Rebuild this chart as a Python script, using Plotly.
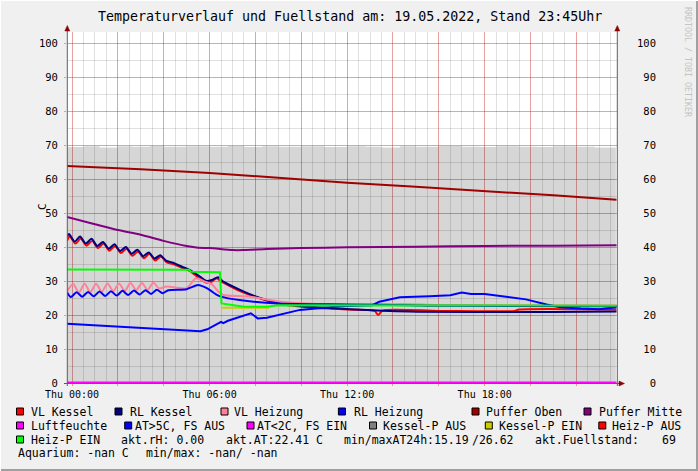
import plotly.graph_objects as go

# ---------------- DATA (time in hours of Thu 19.05.2022) ----------------
fuell_t = [-0.22, 0.5, 1.2, 2.0, 2.6, 3.4, 4.0, 5.0, 6.0, 6.8, 7.5, 8.3, 9.0, 10.0, 11.0,
           12.0, 12.8, 13.5, 14.3, 15.0, 16.0, 17.0, 17.8, 18.5, 19.5, 20.3, 21.0, 22.0, 22.8, 23.72]
fuell_v = [69.4, 69.6, 69.3, 69.6, 69.5, 69.7, 69.5, 69.6, 69.5, 69.7, 69.4, 69.6, 69.5, 69.6, 69.4,
           69.6, 69.5, 69.3, 69.6, 69.5, 69.7, 69.5, 69.4, 69.6, 69.5, 69.4, 69.6, 69.5, 69.3, 69.5]

vlk_t = [-0.22, -0.10, 0.15, 0.38, 0.63, 0.88, 1.13, 1.38, 1.63, 1.88, 2.13, 2.38, 2.63, 2.88,
         3.13, 3.38, 3.63, 3.88, 4.13, 4.4, 4.8, 5.15, 5.58, 5.87, 6.1, 6.3, 6.5, 6.6, 7.33, 7.76,
         9.07, 10.4, 12.1, 13.2, 13.35, 13.55, 16.0, 19.3, 19.5, 23.75]
vlk_v = [41.8, 43.1, 41.0, 42.5, 40.4, 41.8, 39.7, 41.0, 38.9, 40.3, 38.2, 39.5, 37.4, 38.7,
         36.7, 38.0, 36.0, 37.2, 35.5, 35.0, 33.9, 32.9, 30.6, 29.5, 29.8, 30.8, 29.9, 29.5, 27.0, 25.9,
         23.2, 22.2, 21.6, 21.2, 20.0, 21.3, 21.2, 21.2, 21.6, 21.6]

rlk_t = [-0.22, -0.13, 0.12, 0.35, 0.60, 0.85, 1.10, 1.35, 1.60, 1.85, 2.10, 2.35, 2.60, 2.85,
         3.10, 3.35, 3.60, 3.85, 4.10, 4.4, 4.8, 5.15, 5.58, 5.87, 6.1, 6.37, 6.6, 7.33, 8.2,
         9.07, 10.4, 12.1, 14.7, 18.0, 21.0, 23.75]
rlk_v = [43.0, 43.8, 41.6, 43.1, 41.0, 42.4, 40.3, 41.5, 39.5, 40.8, 38.8, 40.0, 38.0, 39.2,
         37.3, 38.4, 36.6, 37.6, 36.0, 35.4, 34.2, 33.2, 31.3, 30.0, 30.3, 31.1, 29.8, 27.4, 25.0,
         23.4, 22.4, 21.7, 21.0, 20.9, 20.9, 21.0]

vlh_t = [-0.22, 0.05, 0.30, 0.55, 0.80, 1.05, 1.30, 1.55, 1.80, 2.05, 2.30, 2.55, 2.80, 3.05,
         3.30, 3.55, 3.80, 4.13, 5.0, 5.4, 5.8, 6.1, 6.4, 6.6, 7.76, 9.0, 10.5, 12.0, 14.5, 16.0, 23.75]
vlh_v = [26.9, 29.1, 26.6, 29.2, 26.7, 29.2, 26.8, 29.3, 27.0, 29.3, 27.1, 29.4, 27.3, 29.4,
         27.4, 29.5, 27.8, 28.4, 27.9, 30.8, 29.8, 29.0, 26.8, 25.9, 25.4, 24.0, 23.3, 23.0, 23.2, 22.9, 22.8]

rlh_t = [-0.22, -0.05, 0.20, 0.45, 0.70, 0.95, 1.20, 1.45, 1.70, 1.95, 2.20, 2.45, 2.70, 2.95,
         3.20, 3.45, 3.70, 3.95, 4.2, 5.0, 5.5, 5.9, 6.3, 6.5, 7.3, 9.0, 12.0, 14.7, 16.0, 23.75]
rlh_v = [26.7, 25.3, 26.7, 25.4, 26.8, 25.5, 26.9, 25.6, 27.0, 25.7, 27.1, 25.9, 27.2, 26.0,
         27.3, 26.2, 27.4, 26.4, 27.3, 27.6, 28.8, 27.8, 26.0, 25.4, 24.4, 23.4, 23.1, 22.9, 22.7, 22.6]

pob_t = [-0.22, 3.0, 6.0, 9.0, 12.0, 15.0, 18.0, 21.0, 23.75]
pob_v = [63.8, 62.9, 61.8, 60.3, 58.9, 57.7, 56.5, 55.2, 53.9]

pmi_t = [-0.22, 1.0, 2.0, 3.0, 4.0, 5.0, 5.5, 6.0, 7.0, 7.5, 8.5, 10.0, 12.0, 15.0, 18.0, 21.0, 23.75]
pmi_v = [48.8, 46.7, 45.0, 43.6, 41.8, 40.3, 39.8, 39.7, 39.1, 39.1, 39.4, 39.7, 39.9, 40.1, 40.3, 40.4, 40.5]

luft_t = [-0.22, 23.75]
luft_v = [0.0, 0.0]

at_t = [-0.22, 2.0, 4.0, 5.0, 5.6, 5.9, 6.3, 6.5, 6.6, 6.8, 7.8, 8.1, 8.5, 9.94, 11.7, 13.1, 13.4,
        14.3, 15.6, 16.5, 17.0, 17.4, 18.0, 18.7, 19.3, 19.8, 20.7, 21.3, 22.2, 23.0, 23.75]
at_v = [17.4, 16.6, 15.9, 15.4, 15.2, 15.8, 17.3, 18.0, 17.6, 18.3, 20.5, 19.0, 19.2, 21.5, 22.6, 22.9, 23.9,
        25.2, 25.5, 25.8, 26.6, 26.2, 26.2, 25.6, 25.0, 24.6, 23.1, 22.3, 21.9, 21.7, 22.3]

kpe_t = [6.5, 8.6]
kpe_v = [22.1, 22.1]

hpe_t = [-0.22, 5.1, 5.2, 6.45, 6.52, 7.5, 8.5, 9.0, 23.75]
hpe_v = [33.4, 33.3, 32.7, 32.6, 23.4, 22.4, 22.4, 22.9, 22.7]

y_ticks = [0, 10, 20, 30, 40, 50, 60, 70, 80, 90, 100]
x_major = [0, 2, 4, 6, 8, 10, 12, 14, 16, 18, 20, 22]
x_labels = {0: "Thu 00:00", 6: "Thu 06:00", 12: "Thu 12:00", 18: "Thu 18:00"}

title_text = "Temperaturverlauf und Fuellstand am: 19.05.2022, Stand 23:45Uhr"

legend_items = [
    ("VL Kessel", "#ff0000", 16.5, 30.3, 411.5),
    ("RL Kessel", "#000080", 115.0, 129.0, 411.5),
    ("VL Heizung", "#ff8099", 221.0, 233.0, 411.5),
    ("RL Heizung", "#0000ff", 338.4, 352.6, 411.5),
    ("Puffer Oben", "#a00000", 472.0, 485.0, 411.5),
    ("Puffer Mitte", "#800080", 584.0, 597.5, 411.5),
    ("Luftfeuchte", "#ff00ff", 16.5, 30.3, 425.5),
    ("AT>5C, FS AUS", "#0000ff", 124.7, 133.6, 425.5),
    ("AT<2C, FS EIN", "#ff00ff", 247.0, 256.0, 425.5),
    ("Kessel-P AUS", "#808080", 369.5, 382.0, 425.5),
    ("Kessel-P EIN", "#cccc00", 485.3, 497.8, 425.5),
    ("Heiz-P AUS", "#ff0000", 598.8, 611.0, 425.5),
    ("Heiz-P EIN", "#00ff00", 16.5, 30.3, 439.5),
]
legend_texts = [
    ("akt.rH: 0.00", 120.2, 439.5),
    ("akt.AT:22.41 C", 224.8, 439.5),
    ("min/maxAT24h:15.19", 342.8, 439.5),
    ("/26.62", 471.0, 439.5),
    ("akt.Fuellstand:", 534.3, 439.5),
    ("69", 661.0, 439.5),
    ("Aquarium: -nan C", 16.5, 453.0),
    ("min/max: -nan/ -nan", 144.7, 453.0),
]

# ---------------- FIGURE ----------------
W, H = 698, 471
L, R, T, B = 67, 617, 32, 383


def px(x):
    return (x - L) / (R - L)


def py(y):
    return (B - y) / (B - T)


MONO = "DejaVu Sans Mono"
fig = go.Figure()

fig.add_trace(go.Scatter(x=fuell_t, y=fuell_v, mode="lines", line=dict(width=0, shape="hv"),
                         fill="tozeroy", fillcolor="rgba(0,0,0,0.16)", hoverinfo="skip"))


def line(t, v, color, width=2, yaxis="y", shape="linear"):
    ln = dict(color=color, width=width, shape=shape)
    if shape == "spline":
        ln["smoothing"] = 0.7
    fig.add_trace(go.Scatter(x=t, y=v, mode="lines", line=ln, yaxis=yaxis, hoverinfo="skip"))


line(vlk_t, vlk_v, "#ff0000", shape="spline")
line(rlk_t, rlk_v, "#000080", shape="spline")
line(vlh_t, vlh_v, "#ff8099", shape="spline")
line(rlh_t, rlh_v, "#0000ff", shape="spline")
line(pob_t, pob_v, "#a00000", yaxis="y2")
line(pmi_t, pmi_v, "#800080", shape="spline")
line(luft_t, luft_v, "#ff00ff", width=3)
line(at_t, at_v, "#0000ff")
line(kpe_t, kpe_v, "#cccc00")
line(hpe_t, hpe_v, "#00ff00")

yr = [0, (B - T) / 3.4]

fig.update_layout(
    width=W, height=H,
    margin=dict(l=L, r=W - R, t=T, b=H - B),
    paper_bgcolor="#f0f0f0", plot_bgcolor="#ffffff",
    showlegend=False,
    font=dict(family=MONO, size=10, color="#000000"),
    xaxis=dict(
        range=[-0.218, 23.77], tickmode="array", tickvals=x_major,
        ticktext=[x_labels.get(v, "") for v in x_major],
        showgrid=True, gridcolor="rgba(255,0,0,0.28)", gridwidth=1,
        zeroline=False, showline=False, ticks="outside", ticklen=2,
        tickcolor="rgba(255,0,0,0.4)",
        minor=dict(tickmode="linear", tick0=0, dtick=0.5, showgrid=True,
                   gridcolor="rgba(0,0,0,0.12)", gridwidth=1, ticks=""),
        tickfont=dict(family=MONO, size=10),
    ),
    yaxis=dict(
        range=yr, tickmode="array", tickvals=y_ticks, ticktext=[str(v) for v in y_ticks],
        showgrid=True, gridcolor="rgba(255,0,0,0.28)", gridwidth=1,
        zeroline=False, showline=False, ticks="outside", ticklen=2,
        tickcolor="rgba(255,0,0,0.4)", ticklabelstandoff=4,
        minor=dict(tickmode="linear", tick0=0, dtick=5, showgrid=True,
                   gridcolor="rgba(0,0,0,0.12)", gridwidth=1, ticks=""),
        tickfont=dict(family=MONO, size=10.5),
    ),
    yaxis2=dict(
        range=yr, overlaying="y", side="right", tickmode="array", tickvals=y_ticks,
        ticktext=[("\u00a0" * (3 - len(str(v)))) + str(v) for v in y_ticks],
        showgrid=False, zeroline=False, showline=False, ticks="",
        ticklabelstandoff=19, tickfont=dict(family=MONO, size=10.5),
    ),
)

shapes = []
ann = []
AX = "#606060"
ARW = "#8b0000"
# axis lines
shapes.append(dict(type="line", xref="paper", yref="paper", x0=px(67.3), x1=px(67.3),
                   y0=py(386), y1=py(28), line=dict(color=AX, width=1)))
shapes.append(dict(type="line", xref="paper", yref="paper", x0=px(617.3), x1=px(617.3),
                   y0=py(386), y1=py(28), line=dict(color=AX, width=1)))
shapes.append(dict(type="line", xref="paper", yref="paper", x0=px(64), x1=px(621),
                   y0=py(383.5), y1=py(383.5), line=dict(color=AX, width=1), layer="below"))


def tri(p):
    path = "M " + " L ".join(f"{px(a)},{py(b)}" for a, b in p) + " Z"
    return dict(type="path", xref="paper", yref="paper", path=path,
                fillcolor=ARW, line=dict(color=ARW, width=0.5))


shapes.append(tri([(67.3, 25.5), (64.8, 31), (69.8, 31)]))
shapes.append(tri([(617.3, 25.5), (614.8, 31), (619.8, 31)]))
shapes.append(tri([(624.5, 383.5), (619, 381), (619, 386)]))
# frame
shapes.append(dict(type="line", xref="paper", yref="paper", x0=px(697), x1=px(697),
                   y0=py(0), y1=py(471), line=dict(color="#a0a0a0", width=2)))
shapes.append(dict(type="line", xref="paper", yref="paper", x0=px(0), x1=px(698),
                   y0=py(470), y1=py(470), line=dict(color="#a0a0a0", width=2)))
shapes.append(dict(type="line", xref="paper", yref="paper", x0=px(0.5), x1=px(0.5),
                   y0=py(0), y1=py(471), line=dict(color="#ffffff", width=1)))
shapes.append(dict(type="line", xref="paper", yref="paper", x0=px(0), x1=px(698),
                   y0=py(0.5), y1=py(0.5), line=dict(color="#ffffff", width=1)))

# legend
for name, col, sx, tx, ry in legend_items:
    shapes.append(dict(type="rect", xref="paper", yref="paper", x0=px(sx), x1=px(sx + 7),
                       y0=py(ry + 3.5), y1=py(ry - 3.5), fillcolor=col,
                       line=dict(color="#000000", width=1)))
    ann.append(dict(text=name, x=px(tx), y=py(ry), xref="paper", yref="paper",
                    xanchor="left", yanchor="middle", showarrow=False, borderpad=0,
                    font=dict(family=MONO, size=11.5, color="#000000")))
for txt, tx, ry in legend_texts:
    ann.append(dict(text=txt, x=px(tx), y=py(ry), xref="paper", yref="paper",
                    xanchor="left", yanchor="middle", showarrow=False, borderpad=0,
                    font=dict(family=MONO, size=11.5, color="#000000")))

ann.append(dict(text=title_text, x=px(350), y=py(17), xref="paper", yref="paper",
                xanchor="center", yanchor="middle", showarrow=False, borderpad=0,
                font=dict(family=MONO, size=13.3, color="#000000")))
ann.append(dict(text="C", x=px(42), y=py(207), xref="paper", yref="paper", textangle=-90,
                xanchor="center", yanchor="middle", showarrow=False, borderpad=0,
                font=dict(family=MONO, size=11, color="#000000")))
ann.append(dict(text="RRDTOOL / TOBI OETIKER", x=px(688), y=py(62), xref="paper", yref="paper",
                textangle=90, xanchor="center", yanchor="middle", showarrow=False, borderpad=0,
                font=dict(family=MONO, size=8.3, color="#c4c4c4")))

fig.update_layout(shapes=shapes, annotations=ann)
fig.write_html("out.html", config={"displayModeBar": False, "staticPlot": True},
               post_script="document.body.style.margin='0';document.body.style.overflow='hidden';")
